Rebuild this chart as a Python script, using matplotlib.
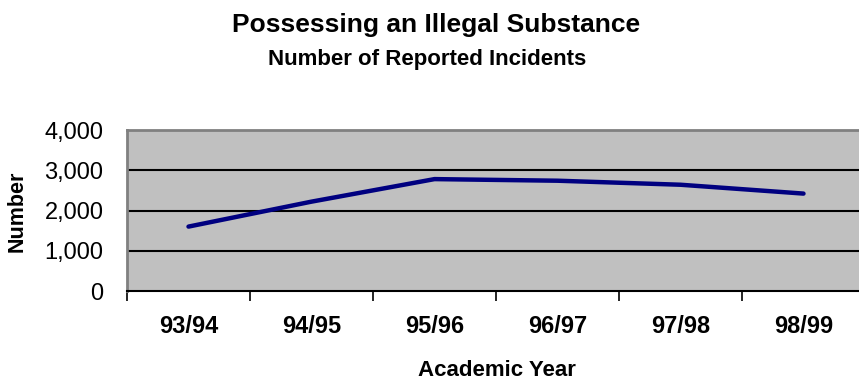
import matplotlib.pyplot as plt
from matplotlib.ticker import FuncFormatter, FixedLocator

plt.rcParams['font.family'] = ['Liberation Sans', 'DejaVu Sans']

years = ['93/94', '94/95', '95/96', '96/97', '97/98', '98/99']
incidents = [1600, 2220, 2780, 2740, 2640, 2420]

fig = plt.figure(figsize=(8.59, 3.81), dpi=100)
ax = fig.add_axes([127 / 859, 90 / 381, 738 / 859, 161 / 381])
ax.set_facecolor('#c0c0c0')

x = list(range(len(years)))
ax.plot(x, incidents, color='#000080', linewidth=3.2, solid_capstyle='round', zorder=3)

ax.set_xlim(-0.5, len(years) - 0.5)
ax.set_ylim(0, 4000)
ax.set_yticks([0, 1000, 2000, 3000, 4000])
ax.yaxis.set_major_formatter(FuncFormatter(lambda v, p: f'{int(v):,}'))
for g in [1000, 2000, 3000]:
    ax.axhline(g, color='black', linewidth=1.5, zorder=2)

ax.set_xticks(x)
ax.set_xticklabels(years, fontsize=17, fontweight='bold')
ax.xaxis.set_minor_locator(FixedLocator([i - 0.5 for i in range(len(years) + 1)]))
ax.tick_params(axis='x', which='major', length=0, pad=17)
ax.tick_params(axis='x', which='minor', length=7, width=1.2, color='black', direction='out')
ax.tick_params(axis='y', length=0, pad=17, labelsize=17)

for s in ['top', 'left']:
    ax.spines[s].set_color('#808080')
    ax.spines[s].set_linewidth(2)
ax.spines['right'].set_visible(False)
ax.spines['bottom'].set_color('black')
ax.spines['bottom'].set_linewidth(1.5)

fig.text(436 / 859, 1 - 25 / 381, 'Possessing an Illegal Substance', ha='center', va='center',
         fontsize=19, fontweight='bold')
fig.text(427 / 859, 1 - 59 / 381, 'Number of Reported Incidents', ha='center', va='center',
         fontsize=16, fontweight='bold')
fig.text(497 / 859, 1 - 371 / 381, 'Academic Year', ha='center', va='center',
         fontsize=16, fontweight='bold')
fig.text(17 / 859, 1 - 211 / 381, 'Number', ha='center', va='center', rotation=90,
         fontsize=15.5, fontweight='bold')

fig.savefig('out.png', dpi=100)
